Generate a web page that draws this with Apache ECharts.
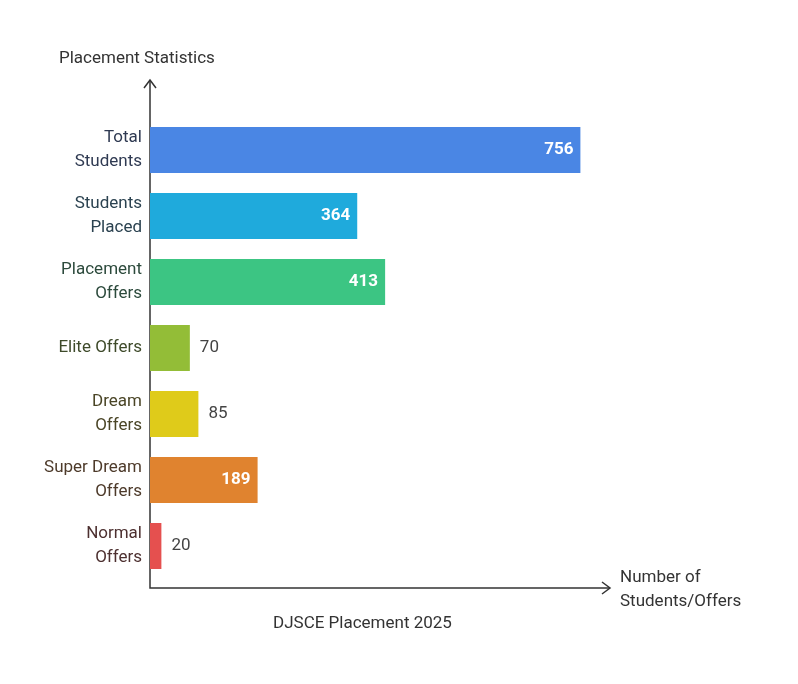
<!DOCTYPE html>
<html><head><meta charset="utf-8">
<script src="https://cdn.jsdelivr.net/npm/echarts@6/dist/echarts.min.js"></script>
<style>html,body{margin:0;background:#fff}#c{width:798px;height:684px}</style>
</head><body><div id="c"></div>
<script>
const categories = ["Total\nStudents","Students\nPlaced","Placement\nOffers","Elite Offers","Dream\nOffers","Super Dream\nOffers","Normal\nOffers"];
const values = [756,364,413,70,85,189,20];
const barColors = ["#4a86e4","#1faadc","#3cc583","#93bd37","#dfcb1a","#e0832f","#e5504f"];
const labelColors = ["#2f3a52","#2b4250","#2c4a3c","#3e4a2a","#4a4526","#4d3a2a","#4d3030"];
const F = "Roboto";
const chart = echarts.init(document.getElementById('c'));
chart.setOption({
  animation:false,
  grid:{left:150,top:117,width:460,height:462},
  xAxis:{type:'value',min:0,max:808,show:false},
  yAxis:{type:'category',inverse:true,data:categories,
    axisLine:{show:false},axisTick:{show:false},
    axisLabel:{fontFamily:F,fontSize:17,lineHeight:24,margin:8,align:'right',
      color:(v,i)=>labelColors[i]}},
  series:[{type:'bar',barWidth:46,
    data:values.map((v,i)=>({value:v,itemStyle:{color:barColors[i]},
      label:v>150?{position:'insideRight',color:'#fff',fontWeight:'bold',distance:7}
                  :{position:'right',color:'#444',distance:10}})),
    label:{show:true,fontFamily:F,fontSize:17}}],
  graphic:[
    {type:'polyline',shape:{points:[[150,80],[150,588],[610,588]]},style:{stroke:'#333',lineWidth:1.5,fill:null}},
    {type:'polyline',shape:{points:[[144,88],[150,80],[156,88]]},style:{stroke:'#333',lineWidth:1.5,fill:null}},
    {type:'polyline',shape:{points:[[602,582],[610,588],[602,594]]},style:{stroke:'#333',lineWidth:1.5,fill:null}},
    {type:'text',left:59,top:50,style:{text:'Placement Statistics',font:'17px Roboto',fill:'#333'}},
    {type:'text',left:620,top:566,style:{text:'Number of\nStudents/Offers',font:'17px Roboto',lineHeight:24,fill:'#333'}},
    {type:'text',left:273,top:615,style:{text:'DJSCE Placement 2025',font:'17px Roboto',fill:'#333'}}
  ]
});
</script></body></html>
